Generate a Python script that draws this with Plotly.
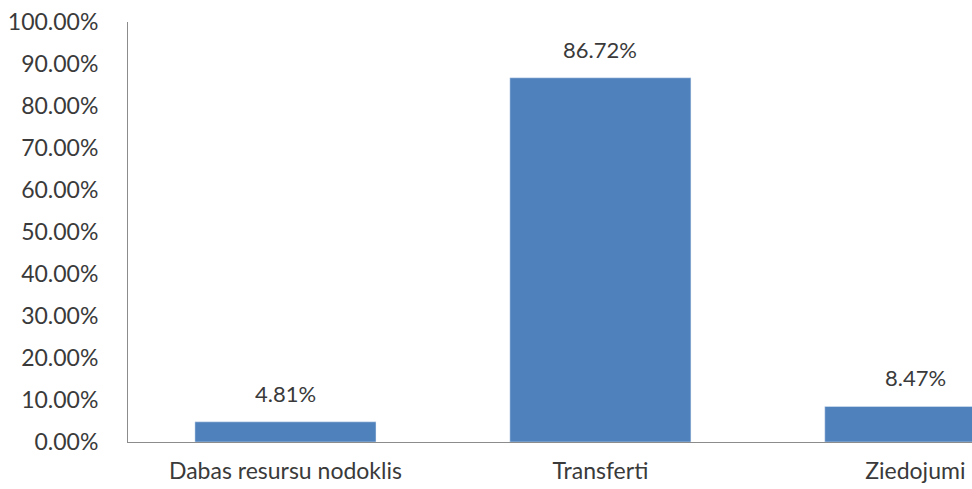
import plotly.graph_objects as go

categories = ["Dabas resursu nodoklis", "Transferti", "Ziedojumi"]
values = [0.0481, 0.8672, 0.0847]
labels = ["4.81%", "86.72%", "8.47%"]
tick_vals = [i / 10 for i in range(11)]

FONT = "Lato"
TXT = "#3a3a3a"

fig = go.Figure()
fig.add_trace(go.Bar(
    x=categories, y=values, marker_color="#4F81BD", width=0.575,
    hoverinfo="skip",
))
for c, v, t in zip(categories, values, labels):
    fig.add_annotation(x=c, y=v, text=t, showarrow=False, yanchor="bottom",
                       yshift=13, font=dict(family=FONT, size=22, color=TXT))

fig.update_layout(
    width=972, height=489,
    margin=dict(l=128, r=0, t=22, b=47),
    paper_bgcolor="white", plot_bgcolor="white",
    showlegend=False,
    font=dict(family=FONT, size=23, color=TXT),
)
fig.update_xaxes(range=[-0.5, 2.18], showline=True, linecolor="#8c8c8c", linewidth=1,
                 showgrid=False, ticks="", ticklabelstandoff=8, automargin=False,
                 ticklabeloverflow="allow",
                 tickfont=dict(family=FONT, size=23, color=TXT))
fig.update_yaxes(range=[0, 1], tickvals=tick_vals, tickformat=".2%", showline=True,
                 linecolor="#8c8c8c", linewidth=1, showgrid=False, zeroline=False,
                 ticks="", ticklabelstandoff=24, automargin=False,
                 ticklabeloverflow="allow",
                 tickfont=dict(family=FONT, size=23, color=TXT))
fig.write_html(
    "out.html",
    config={"displayModeBar": False},
    post_script="document.body.style.margin='0';document.body.style.overflow='hidden';",
)
